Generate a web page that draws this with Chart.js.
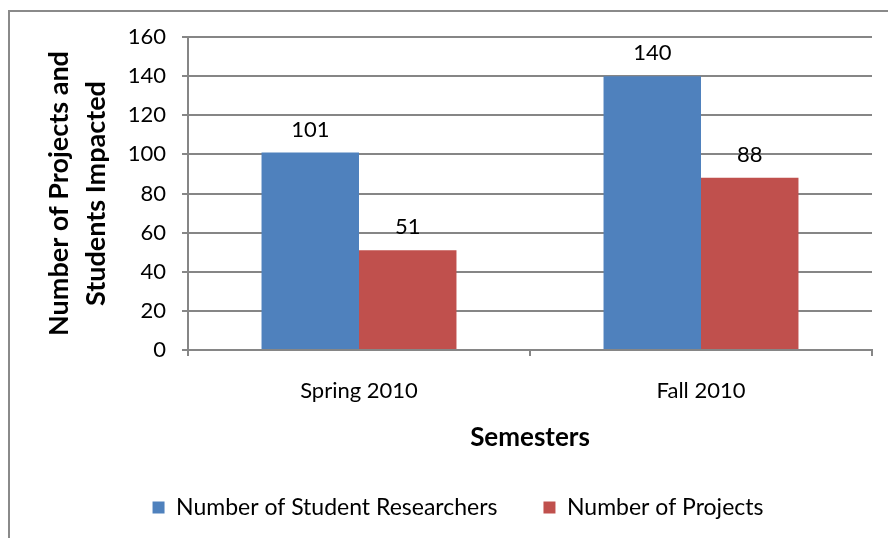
<!DOCTYPE html>
<html lang="en">
<head>
    <meta charset="UTF-8">
    <title>Projects and Students Impacted</title>
    <script src="https://cdn.jsdelivr.net/npm/chart.js"></script>
    <style>
        body { margin: 0; background: #fff; }
        .wrap { position: relative; width: 888px; height: 538px; overflow: hidden; }
        .frame {
            position: absolute; left: 8px; top: 10px;
            width: 900px; height: 600px;
            border: 2px solid #8a8a8a;
        }
        canvas { position: absolute; left: 0; top: 0; }
    </style>
</head>
<body>
    <div class="wrap">
        <div class="frame"></div>
        <canvas id="chart" width="888" height="538"></canvas>
    </div>

    <script>
        // chart data
        const semesters = ['Spring 2010', 'Fall 2010'];
        const studentResearchers = [101, 140];
        const projects = [51, 88];
        const yTicks = [0, 20, 40, 60, 80, 100, 120, 140, 160];

        const FONT = 'Lato, "Open Sans", sans-serif';

        // draws the value above each bar
        const valueLabels = {
            id: 'valueLabels',
            afterDatasetsDraw(chart) {
                const ctx = chart.ctx;
                ctx.save();
                ctx.font = '22px ' + FONT;
                ctx.fillStyle = '#000';
                ctx.textAlign = 'center';
                ctx.textBaseline = 'middle';
                chart.data.datasets.forEach((ds, i) => {
                    chart.getDatasetMeta(i).data.forEach((bar, j) => {
                        ctx.fillText(ds.data[j], bar.x, bar.y - 23);
                    });
                });
                ctx.restore();
            }
        };

        new Chart(document.getElementById('chart'), {
            type: 'bar',
            data: {
                labels: semesters,
                datasets: [
                    {
                        label: 'Number of Student Researchers',
                        data: studentResearchers,
                        backgroundColor: '#4f81bd'
                    },
                    {
                        label: 'Number of Projects',
                        data: projects,
                        backgroundColor: '#c0504d'
                    }
                ]
            },
            options: {
                responsive: false,
                animation: false,
                // left padding also centres the legend under the plot like the original
                layout: { padding: { left: 44, right: 16, top: 37, bottom: 9 } },
                datasets: {
                    bar: { categoryPercentage: 0.57, barPercentage: 1.0 }
                },
                plugins: {
                    legend: {
                        position: 'bottom',
                        maxHeight: 84,
                        labels: {
                            font: { family: FONT, size: 23 },
                            color: '#000',
                            boxWidth: 12,
                            boxHeight: 12,
                            padding: 46
                        }
                    },
                    tooltip: { enabled: false }
                },
                scales: {
                    x: {
                        afterFit: (axis) => { axis.height = 100; },
                        grid: { display: true, drawOnChartArea: false, color: '#868686', lineWidth: 2, tickLength: 6, offset: true },
                        border: { color: '#868686', width: 2 },
                        ticks: { font: { family: FONT, size: 22 }, color: '#000', padding: 22 },
                        title: {
                            display: true,
                            text: 'Semesters',
                            font: { family: FONT, size: 26, weight: 'bold', lineHeight: 0.92 },
                            color: '#000',
                            padding: { top: 0, bottom: 0 }
                        }
                    },
                    y: {
                        min: 0,
                        max: 160,
                        afterBuildTicks: (axis) => { axis.ticks = yTicks.map(v => ({ value: v })); },
                        afterFit: (axis) => { axis.width = 144; },
                        grid: { color: '#868686', lineWidth: 2, tickLength: 6 },
                        border: { color: '#868686', width: 2 },
                        ticks: { font: { family: FONT, size: 22 }, color: '#000', padding: 16 },
                        title: {
                            display: true,
                            text: ['Number of Projects and', 'Students Impacted'],
                            font: { family: FONT, size: 27, weight: 'bold', lineHeight: 1.37 },
                            color: '#000',
                            padding: { top: -3, bottom: 0 }
                        }
                    }
                }
            },
            plugins: [valueLabels]
        });
    </script>
</body>
</html>
